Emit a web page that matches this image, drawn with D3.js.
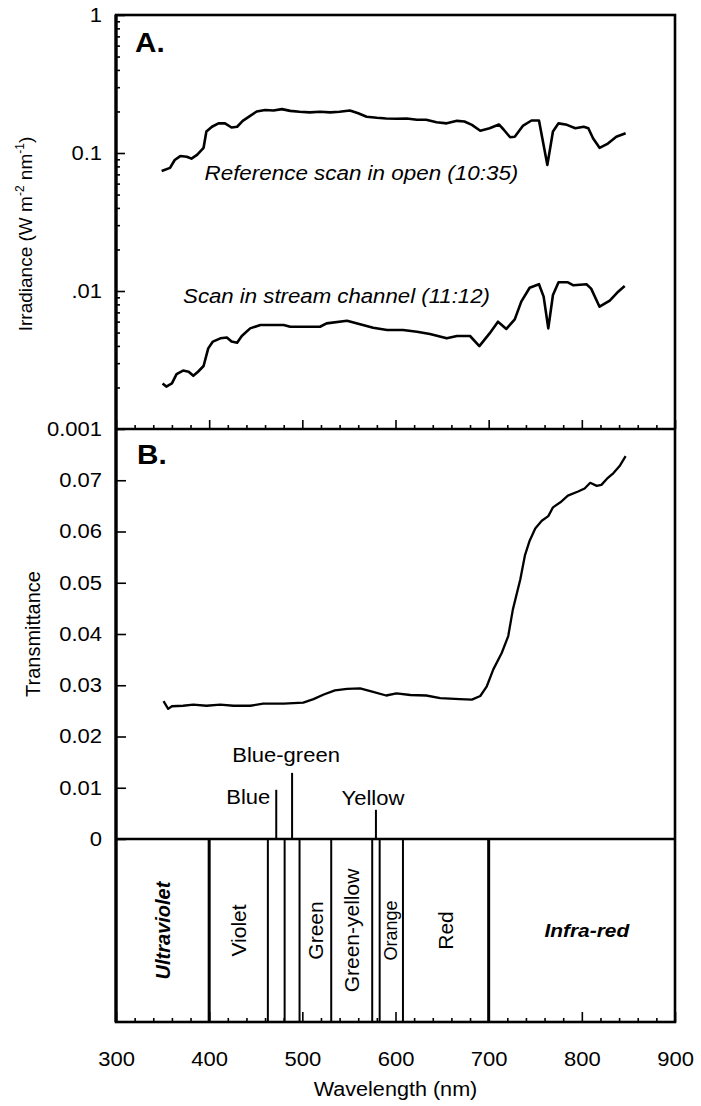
<!DOCTYPE html>
<html>
<head>
<meta charset="utf-8">
<script src="https://cdn.jsdelivr.net/npm/d3@7"></script>
<style>
  html, body { margin: 0; padding: 0; background: #fff; }
  svg { display: block; }
  text { font-family: "Liberation Sans", Arial, Helvetica, sans-serif; fill: #000; }
</style>
</head>
<body>
<svg id="chart" width="701" height="1106"></svg>
<script>
// Spectral irradiance, reference scan in the open (10:35)
const openWavelength = [349,358,363,369,376,381,387,394,397,403,410,417,424,430,436,444,451,460,469,478,
  487,497,508,519,530,540,551,560,569,580,590,601,612,623,633,644,655,666,674,682,
  691,701,711,716,723,728,737,746,754,763,769,775,784,793,802,807,812,819,828,837,847];
const openIrradiance = [0.074,0.078,0.089,0.095,0.094,0.091,0.097,0.109,0.143,0.155,0.164,0.164,0.153,0.155,0.171,0.186,0.200,0.205,0.203,0.208,
  0.202,0.199,0.197,0.199,0.197,0.199,0.203,0.194,0.183,0.180,0.178,0.177,0.178,0.174,0.174,0.167,0.164,0.171,0.169,0.160,
  0.145,0.151,0.161,0.148,0.130,0.131,0.158,0.172,0.172,0.082,0.143,0.164,0.160,0.151,0.155,0.151,0.128,0.109,0.117,0.131,0.139];

// Spectral irradiance, scan in the stream channel (11:12)
const streamWavelength = [350,354,360,365,372,378,383,388,394,399,404,412,419,424,430,435,444,455,465,480,
  487,497,519,526,548,562,576,591,608,623,637,655,666,680,690,701,710,719,728,735,
  744,754,759,764,769,775,785,791,805,810,819,830,839,846];
const streamIrradiance = [0.00214,0.00203,0.00214,0.00250,0.00265,0.00260,0.00243,0.00260,0.00286,0.00384,
  0.00430,0.00454,0.00460,0.00430,0.00422,0.00472,0.00536,0.00567,0.00567,0.00567,
  0.00551,0.00551,0.00551,0.00583,0.00609,0.00574,0.00542,0.00522,0.00522,0.00507,
  0.00488,0.00454,0.00472,0.00472,0.00399,0.00493,0.00599,0.00531,0.00623,0.00837,
  0.01056,0.0112,0.0091,0.00536,0.00935,0.01156,0.01156,0.0110,0.0112,0.0104,
  0.00769,0.00851,0.00989,0.01087];

// Transmittance (stream channel / open)
const transWavelength = [351,356,360,372,383,397,412,426,444,458,480,501,512,523,535,548,562,574,590,601,
  616,633,648,669,682,691,698,705,714,721,726,734,739,744,750,757,764,769,777,785,
  796,803,809,816,821,827,834,841,847];
const transmittance = [0.0269,0.0254,0.0259,0.0260,0.0262,0.0260,0.0262,0.0260,0.0260,0.0264,
  0.0264,0.0266,0.0273,0.0282,0.0290,0.0293,0.0294,0.0288,0.0280,0.0284,
  0.0281,0.0280,0.0275,0.0273,0.0272,0.0279,0.0298,0.0331,0.0363,0.0396,
  0.0448,0.0507,0.0554,0.0582,0.0606,0.0621,0.0630,0.0647,0.0657,0.0670,
  0.0678,0.0684,0.0695,0.0689,0.0691,0.0703,0.0714,0.0729,0.0747];

// Axis ticks
const irrTicks = [1, 0.1, 0.01, 0.001];
const irrTickLabels = ["1", "0.1", ".01", "0.001"];
const transTicks = [0, 0.01, 0.02, 0.03, 0.04, 0.05, 0.06, 0.07];
const transTickLabels = ["0", "0.01", "0.02", "0.03", "0.04", "0.05", "0.06", "0.07"];
const wlTicks = [300, 400, 500, 600, 700, 800, 900];

// Colour bands of the spectrum (nm)
const bandNames = ["Ultraviolet","Violet","Blue","Blue-green","Green","Green-yellow","Yellow","Orange","Red","Infra-red"];
const bandStart = [300, 400, 463, 481, 497, 531, 575, 583, 608, 700];
const bandEnd   = [400, 463, 481, 497, 531, 575, 583, 608, 700, 900];

// ---------------------------------------------------------------------------
const svg = d3.select("#chart");
const L = 116, R = 675, TOP = 15, MIDA = 429, ZERO = 839, BOT = 1022;

const x = d3.scaleLinear().domain([300, 900]).range([L, R]);
const yA = d3.scaleLog().domain([0.001, 1]).range([MIDA, TOP]);
const yB = d3.scaleLinear().domain([0, 0.08]).range([ZERO, MIDA]);

// stretch horizontal labels slightly wider than the font's natural set width
function widen(sel, f) {
  sel.each(function () {
    const len = this.getComputedTextLength();
    d3.select(this).attr("textLength", len * f).attr("lengthAdjust", "spacingAndGlyphs");
  });
}

function styleAxis(g, size) {
  g.select(".domain").remove();
  g.selectAll(".tick line").attr("stroke", "#000").attr("stroke-width", 1.6);
  g.selectAll(".tick text").attr("font-size", size).attr("fill", "#000");
}

// ---- Panel A: irradiance (log) ----
const minorIrr = [];
[0.001, 0.01, 0.1].forEach(d => { for (let k = 2; k <= 9; k++) minorIrr.push(d * k); });

svg.append("g").attr("transform", `translate(${L},0)`)
  .call(d3.axisLeft(yA).tickValues(minorIrr).tickSizeInner(-4).tickSizeOuter(0).tickFormat(""))
  .call(g => styleAxis(g, 0));

const gA = svg.append("g").attr("transform", `translate(${L},0)`)
  .call(d3.axisLeft(yA).tickValues(irrTicks).tickSizeInner(-9).tickSizeOuter(0).tickPadding(14)
    .tickFormat((d, i) => irrTickLabels[i]))
  .call(g => styleAxis(g, 20));
widen(gA.selectAll(".tick text"), 1.1);

// wavelength ticks along the bottom of panel A
const minorWl = d3.range(300, 901, 20).filter(d => d % 100 !== 0);
svg.append("g").attr("transform", `translate(0,${MIDA})`)
  .call(d3.axisBottom(x).tickValues(minorWl).tickSizeInner(-4).tickSizeOuter(0).tickFormat(""))
  .call(g => styleAxis(g, 0));
svg.append("g").attr("transform", `translate(0,${MIDA})`)
  .call(d3.axisBottom(x).tickValues(wlTicks).tickSizeInner(-9).tickSizeOuter(0).tickFormat(""))
  .call(g => styleAxis(g, 0));

const line = d3.line().curve(d3.curveLinear);
const openPts = d3.zip(openWavelength, openIrradiance).map(d => [x(d[0]), yA(d[1])]);
const streamPts = d3.zip(streamWavelength, streamIrradiance).map(d => [x(d[0]), yA(d[1])]);

svg.append("path").attr("d", line(openPts)).attr("fill", "none").attr("stroke", "#000")
  .attr("stroke-width", 2.6).attr("stroke-linejoin", "round");
svg.append("path").attr("d", line(streamPts)).attr("fill", "none").attr("stroke", "#000")
  .attr("stroke-width", 2.6).attr("stroke-linejoin", "round");

const ann1 = svg.append("text").attr("x", x(395)).attr("y", yA(0.064))
  .attr("font-size", 20).attr("font-style", "italic").text("Reference scan in open (10:35)");
const ann2 = svg.append("text").attr("x", x(372)).attr("y", yA(0.0082))
  .attr("font-size", 20).attr("font-style", "italic").text("Scan in stream channel (11:12)");
widen(ann1, 1.12);
widen(ann2, 1.11);

const lblA = svg.append("text").attr("x", 135).attr("y", 52).attr("font-size", 27)
  .attr("font-weight", "bold").text("A.");
widen(lblA, 1.1);

// y title, panel A
const tA = svg.append("text").attr("transform", "translate(32,234) rotate(-90)")
  .attr("text-anchor", "middle").attr("font-size", 19);
tA.append("tspan").text("Irradiance (W m");
tA.append("tspan").attr("font-size", 12).attr("dy", -8).text("-2");
tA.append("tspan").attr("dy", 8).text(" nm");
tA.append("tspan").attr("font-size", 12).attr("dy", -8).text("-1");
tA.append("tspan").attr("dy", 8).text(")");

// ---- Panel B: transmittance ----
const gB = svg.append("g").attr("transform", `translate(${L},0)`)
  .call(d3.axisLeft(yB).tickValues(transTicks).tickSizeInner(-10).tickSizeOuter(0).tickPadding(14)
    .tickFormat((d, i) => transTickLabels[i]))
  .call(g => styleAxis(g, 20));
widen(gB.selectAll(".tick text"), 1.1);

const transPts = d3.zip(transWavelength, transmittance).map(d => [x(d[0]), yB(d[1])]);
svg.append("path").attr("d", line(transPts)).attr("fill", "none").attr("stroke", "#000")
  .attr("stroke-width", 2.3).attr("stroke-linejoin", "round");

const lblB = svg.append("text").attr("x", 137).attr("y", 464).attr("font-size", 27)
  .attr("font-weight", "bold").text("B.");
widen(lblB, 1.1);

svg.append("text").attr("transform", "translate(40,634) rotate(-90)")
  .attr("text-anchor", "middle").attr("font-size", 20).text("Transmittance");

// ---- Colour band strip ----
const bands = bandNames.map((name, i) => ({ name, start: bandStart[i], end: bandEnd[i] }));

// dividers between bands
const dividers = bands.slice(1).map(b => b.start);
svg.append("g").selectAll("line").data(dividers).join("line")
  .attr("x1", d => x(d)).attr("x2", d => x(d))
  .attr("y1", ZERO).attr("y2", BOT)
  .attr("stroke", "#000")
  .attr("stroke-width", d => (d === 400 || d === 700) ? 3 : 2);

// narrow bands are named above the zero line with a leader
const callouts = {
  "Blue":       { top: 0.0096, textY: 0.0068, anchor: "end",    dx: -6 },
  "Blue-green": { top: 0.0129, textY: 0.0151, anchor: "middle", dx: -6 },
  "Yellow":     { top: 0.0057, textY: 0.0067, anchor: "middle", dx: -3 }
};
const insideStyle = {
  "Ultraviolet": { rotate: true, size: 20, weight: "bold", italic: true },
  "Violet":      { rotate: true, size: 21 },
  "Green":       { rotate: true, size: 21 },
  "Green-yellow":{ rotate: true, size: 21 },
  "Orange":      { rotate: true, size: 18 },
  "Red":         { rotate: true, size: 21 },
  "Infra-red":   { rotate: false, size: 19, weight: "bold", italic: true }
};
const midStrip = (ZERO + BOT) / 2;

bands.forEach(b => {
  const cx = x((b.start + b.end) / 2);
  if (callouts[b.name]) {
    const c = callouts[b.name];
    svg.append("line").attr("x1", cx).attr("x2", cx).attr("y1", ZERO).attr("y2", yB(c.top))
      .attr("stroke", "#000").attr("stroke-width", 2);
    const t = svg.append("text").attr("x", cx + c.dx).attr("y", yB(c.textY))
      .attr("text-anchor", c.anchor).attr("font-size", 20).text(b.name);
    widen(t, 1.1);
  } else {
    const s = insideStyle[b.name];
    const t = svg.append("text").attr("text-anchor", "middle")
      .attr("dominant-baseline", "central")
      .attr("font-size", s.size)
      .attr("font-weight", s.weight || "normal")
      .attr("font-style", s.italic ? "italic" : "normal")
      .text(b.name);
    if (s.rotate) {
      t.attr("transform", `translate(${cx},${midStrip}) rotate(-90)`);
    } else {
      t.attr("x", cx + 5).attr("y", midStrip);
      widen(t, 1.1);
    }
  }
});

// wavelength axis at the bottom
svg.append("g").attr("transform", `translate(0,${BOT})`)
  .call(d3.axisBottom(x).tickValues(minorWl).tickSizeInner(-4).tickSizeOuter(0).tickFormat(""))
  .call(g => styleAxis(g, 0));
const gX = svg.append("g").attr("transform", `translate(0,${BOT})`)
  .call(d3.axisBottom(x).tickValues(wlTicks).tickSizeInner(-10).tickSizeOuter(0).tickPadding(30)
    .tickFormat(d3.format("d")))
  .call(g => styleAxis(g, 20));
widen(gX.selectAll(".tick text"), 1.1);

const xt = svg.append("text").attr("x", (L + R) / 2).attr("y", 1096)
  .attr("text-anchor", "middle").attr("font-size", 20).text("Wavelength (nm)");
widen(xt, 1.08);

// ---- frame ----
svg.append("rect").attr("x", L).attr("y", TOP).attr("width", R - L).attr("height", BOT - TOP)
  .attr("fill", "none").attr("stroke", "#000").attr("stroke-width", 2.6);
svg.append("line").attr("x1", L).attr("x2", R).attr("y1", yA(0.001)).attr("y2", yA(0.001))
  .attr("stroke", "#000").attr("stroke-width", 2.6);
svg.append("line").attr("x1", L).attr("x2", R).attr("y1", yB(0)).attr("y2", yB(0))
  .attr("stroke", "#000").attr("stroke-width", 2.6);
svg.append("line").attr("x1", L).attr("x2", L).attr("y1", TOP).attr("y2", BOT)
  .attr("stroke", "#000").attr("stroke-width", 3.2);
</script>
</body>
</html>
